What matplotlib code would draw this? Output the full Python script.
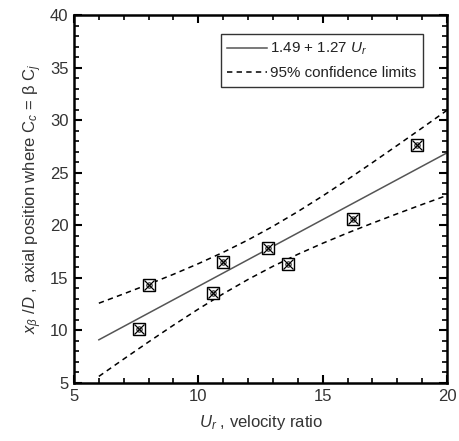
import matplotlib
matplotlib.use("Agg")
import matplotlib.pyplot as plt
from matplotlib.ticker import MultipleLocator

plt.rcParams['font.family'] = ['Liberation Sans', 'DejaVu Sans']
plt.rcParams['mathtext.fontset'] = 'custom'
plt.rcParams['mathtext.rm'] = 'Liberation Sans'
plt.rcParams['mathtext.it'] = 'Liberation Sans:italic'
plt.rcParams['mathtext.sf'] = 'Liberation Sans'

# Measured data
ur = [7.6, 8.0, 10.6, 11.0, 12.8, 13.6, 16.2, 18.8]
xb = [10.1, 14.3, 13.6, 16.5, 17.8, 16.3, 20.6, 27.6]

# Fit line and 95% confidence limits
grid = [6, 7, 8, 9, 10, 11, 12, 13, 14, 15, 16, 17, 18, 19, 20]
fit = [9.11, 10.38, 11.65, 12.92, 14.19, 15.46, 16.73, 18.00, 19.27,
       20.54, 21.81, 23.08, 24.35, 25.62, 26.89]
upper = [12.59, 13.48, 14.39, 15.34, 16.35, 17.43, 18.61, 19.90, 21.30,
         22.79, 24.35, 25.96, 27.60, 29.26, 30.94]
lower = [5.63, 7.28, 8.91, 10.50, 12.03, 13.49, 14.85, 16.10, 17.24,
         18.29, 19.27, 20.20, 21.10, 21.98, 22.84]

fig = plt.figure(figsize=(4.59, 4.41), dpi=100)
ax = fig.add_axes([0.1612, 0.1315, 0.8127, 0.8345])

ax.plot(grid, fit, color='#555555', lw=1.1, label=r'1.49 + 1.27 $U_r$')
ax.plot(grid, upper, color='black', lw=1.1, ls=(0, (3.5, 2.8)),
        label='95% confidence limits')
ax.plot(grid, lower, color='black', lw=1.1, ls=(0, (3.5, 2.8)))

ax.plot(ur, xb, ls='none', marker='s', ms=8, mfc='white', mec='black', mew=1.0)
ax.plot(ur, xb, ls='none', marker='x', ms=6.5, mec='black', mew=0.9)
ax.plot(ur, xb, ls='none', marker='o', ms=3.8, mfc='none', mec='black', mew=0.7)

ax.set_xlim(5, 20)
ax.set_ylim(5, 40)
ax.xaxis.set_major_locator(MultipleLocator(5))
ax.xaxis.set_minor_locator(MultipleLocator(1))
ax.yaxis.set_major_locator(MultipleLocator(5))
ax.yaxis.set_minor_locator(MultipleLocator(1))
ax.tick_params(which='both', direction='in', top=True, right=True,
               labelsize=12, labelcolor='#333333')
ax.tick_params(which='major', length=6, width=1.5, pad=4)
ax.tick_params(which='minor', length=3.5, width=1.2)
for s in ax.spines.values():
    s.set_linewidth(1.8)

ax.set_xlabel(r'$U_r$ , velocity ratio', fontsize=12, color='#333333', labelpad=7)
ax.set_ylabel(r'$x_{\beta}$ /$D$ , axial position where C$_c$ = $\mathrm{\beta}$ C$_j$',
              fontsize=12, color='#333333', labelpad=4)

leg = ax.legend(loc='upper right', bbox_to_anchor=(0.935, 0.948), fontsize=10.9,
                frameon=True, fancybox=False, edgecolor='black', handlelength=2.6,
                handletextpad=0.2, borderpad=0.45, labelspacing=0.6,
                borderaxespad=0)
leg.get_frame().set_linewidth(1.0)
for t in leg.get_texts():
    t.set_color('#222222')

fig.savefig('out.png', dpi=100)
